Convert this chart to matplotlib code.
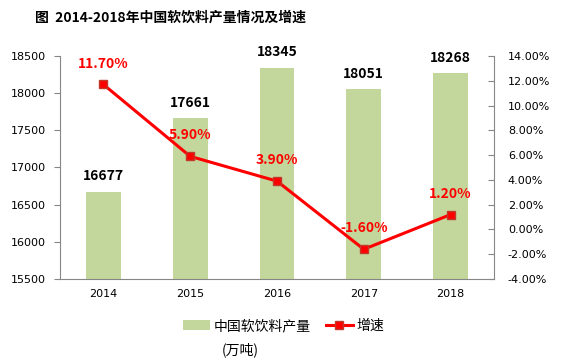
import matplotlib
matplotlib.use("Agg")
import matplotlib.pyplot as plt
from matplotlib.ticker import FuncFormatter

plt.rcParams['font.family'] = ['Noto Sans CJK SC', 'DejaVu Sans']

years = ['2014', '2015', '2016', '2017', '2018']
output = [16677, 17661, 18345, 18051, 18268]
growth = [11.70, 5.90, 3.90, -1.60, 1.20]
title = '图  2014-2018年中国软饮料产量情况及增速'

fig = plt.figure(figsize=(5.62, 3.62), dpi=100)
ax = fig.add_axes([60/562, 1-279/362, (494-60)/562, (279-56)/362])
x = list(range(len(years)))
bars = ax.bar(x, output, width=0.4, color='#c3d69b', label='中国软饮料产量', zorder=2)
ax.set_ylim(15500, 18500)
ax.set_yticks(range(15500, 18501, 500))
ax.set_xlim(-0.5, len(years) - 0.5)
ax.set_xticks(x)
ax.set_xticklabels(years)
gray = '#868686'
for s in ['top', 'right']:
    ax.spines[s].set_visible(False)
for s in ['left', 'bottom']:
    ax.spines[s].set_color(gray)
ax.tick_params(axis='y', colors=gray, labelcolor='#000000', labelsize=8, length=4, direction='out', pad=6)
ax.tick_params(axis='x', length=0, labelsize=8, pad=7)
for lbl in ax.get_yticklabels() + ax.get_xticklabels():
    lbl.set_family('DejaVu Sans')
for xi, v in zip(x, output):
    ax.annotate(str(v), (xi, v), xytext=(0, 6), textcoords='offset points',
                ha='center', va='bottom', fontsize=10, fontweight='bold', color='#000000')

ax2 = ax.twinx()
ax2.plot(x, growth, color='#ff0000', lw=2.2, marker='s', markersize=5.5,
         markerfacecolor='#ff0000', markeredgecolor='#c0392b', label='增速', zorder=3)
ax2.set_ylim(-4, 14)
ax2.set_yticks(range(-4, 15, 2))
ax2.yaxis.set_major_formatter(FuncFormatter(lambda v, p: f'{v:.2f}%'))
for s in ['top', 'left', 'bottom']:
    ax2.spines[s].set_visible(False)
ax2.spines['right'].set_color(gray)
ax2.tick_params(axis='y', colors=gray, labelcolor='#000000', labelsize=8, length=4, direction='in', pad=10)
for lbl in ax2.get_yticklabels():
    lbl.set_family('DejaVu Sans')
for xi, g in zip(x, growth):
    ax2.annotate(f'{g:.2f}%', (xi, g), xytext=(0, 10), textcoords='offset points',
                 ha='center', va='bottom', fontsize=10, fontweight='bold', color='#ff0000')

fig.text(35/562, 1-18/362, title, fontsize=10, fontweight='bold', va='center', ha='left')

handles = [bars, ax2.lines[0]]
fig.legend(handles, ['中国软饮料产量', '增速'], loc='center', bbox_to_anchor=(0.505, 1-326/362),
           ncol=2, frameon=False, fontsize=10, handlelength=1.9, columnspacing=1.1, handletextpad=0.3)
fig.text(222/562, 1-350/362, '(万吨)', fontsize=10, va='center', ha='left')

fig.savefig('out.png', dpi=100)
